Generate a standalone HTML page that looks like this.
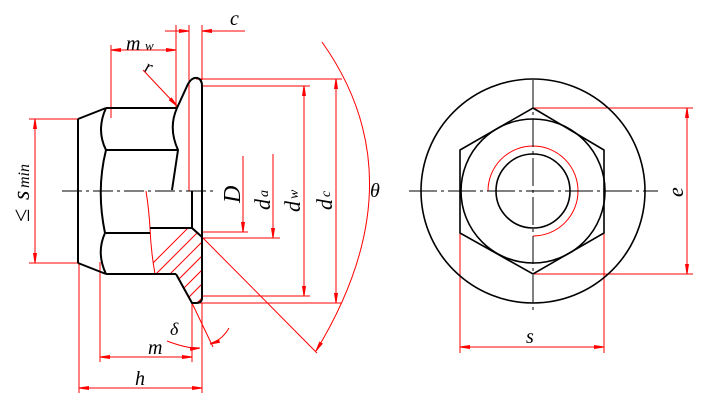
<!DOCTYPE html>
<html><head><meta charset="utf-8"><style>
html,body{margin:0;padding:0;background:#fff;width:704px;height:403px;overflow:hidden}
text{font-family:"Liberation Serif",serif;font-style:italic;fill:#000}
</style></head><body>
<svg width="704" height="403" viewBox="0 0 704 403" xmlns="http://www.w3.org/2000/svg">
<defs>
<marker id="a" viewBox="0 0 10 6" refX="10" refY="3" markerWidth="10" markerHeight="6" orient="auto-start-reverse" markerUnits="userSpaceOnUse">
<path d="M0,1 L10,2.5 L10,3.5 L0,5 Z" fill="#f00"/>
</marker>
<clipPath id="hc"><path d="M150,228 L192,228 L202,237 L202,300 Q200,303 196,303 L192,303 L185,290 L176,274 L155,274 Q151,250 150,228 Z"/></clipPath>
</defs>
<g fill="none" stroke="#f00" stroke-width="1">
<g clip-path="url(#hc)">
<path d="M120,310 L210,220 M134,310 L224,220 M148,310 L238,220 M162,310 L252,220 M176,310 L266,220 M190,310 L280,220 M204,310 L294,220 M218,310 L308,220 M106,310 L196,220"/>
</g>
<path d="M146,191 Q149,210 150,228 Q151,252 155,274"/>
<path d="M29,119 H79 M29,263 H79"/>
<path d="M35,119 V263" marker-start="url(#a)" marker-end="url(#a)"/>
<path d="M111,45 V118 M176,25 V108"/>
<path d="M111,50 H176" marker-start="url(#a)" marker-end="url(#a)"/>
<path d="M189,25 V191 M202,25 V80"/>
<path d="M165,31 H189" marker-end="url(#a)"/>
<path d="M245,31 H202" marker-end="url(#a)"/>
<path d="M143,70 L177,106" marker-end="url(#a)"/>
<path d="M196,79 H342 M196,303 H342"/>
<path d="M336,79 V303" marker-start="url(#a)" marker-end="url(#a)"/>
<path d="M202,86 H310 M202,296 H310"/>
<path d="M304,86 V296" marker-start="url(#a)" marker-end="url(#a)"/>
<path d="M202,238 H280"/>
<path d="M273,154 V238" marker-end="url(#a)"/>
<path d="M202,232 H248"/>
<path d="M243,156 V232" marker-end="url(#a)"/>
<path d="M202,237 L317,353"/>
<path d="M322,42 Q420,180 316,351" marker-end="url(#a)"/>
<path d="M192,303 L213,347"/>
<path d="M167,341 Q188,349 200,348" marker-end="url(#a)"/>
<path d="M229,328 Q222,340 210,344" marker-end="url(#a)"/>
<path d="M100,262 V362 M192,303 V362"/>
<path d="M100,357 H192" marker-start="url(#a)" marker-end="url(#a)"/>
<path d="M79,263 V393 M202,303 V393"/>
<path d="M79,388 H202" marker-start="url(#a)" marker-end="url(#a)"/>
<path d="M533,108 H693 M533,274 H693"/>
<path d="M687,108 V274" marker-start="url(#a)" marker-end="url(#a)"/>
<path d="M460,233 V353 M604,233 V353"/>
<path d="M460,347 H604" marker-start="url(#a)" marker-end="url(#a)"/>
<path d="M488,191 A45,45 0 1 1 533,236"/>
</g>
<g fill="none" stroke="#000" stroke-width="2">
<path d="M78,119 V263 M78,119 L106,108 M78,263 L106,274"/>
<path d="M106,108 H177 M106,150 H178 M106,233 H150 M150,228 H192 M106,274 H176"/>
<path d="M106,108 Q96,130 106,150 Q96,190 105,233 Q96,253 106,274"/>
<path d="M177,108 Q168,128 178,150 L172,190"/>
<path d="M177,108 L188,84 Q192,77 197,78 Q202,79 202,86 V298 Q202,303 196,303 L192,303 L176,274"/>
<path d="M192,191 V228 L202,237"/>
</g>
<g stroke="#000" stroke-width="1" fill="none">
<path d="M62,191 H214" stroke-dasharray="20 4 3 4"/>
</g>
<g fill="none" stroke="#000" stroke-width="1.6">
<circle cx="533" cy="191" r="112"/>
<circle cx="533" cy="191" r="72"/>
<circle cx="533" cy="191" r="37"/>
<path d="M533,108 L604,150 V233 L533,274 L460,233 V150 Z"/>
</g>
<g stroke="#000" stroke-width="1" fill="none">
<path d="M409,191 H658" stroke-dasharray="28 4 3 4"/>
<path d="M533,80 V312" stroke-dasharray="28 4 3 4"/>
</g>
<text x="126" y="50" font-size="20">m</text><text x="145" y="50" font-size="13" font-style="normal">w</text>
<text x="230" y="25" font-size="20">c</text>
<text x="145" y="73" font-size="18" transform="rotate(20 150 68)">r</text>
<text x="148" y="354" font-size="20">m</text>
<text x="170" y="335" font-size="18">δ</text>
<text x="135" y="385" font-size="20">h</text>
<text x="370" y="197" font-size="20">θ</text>
<text x="526" y="343" font-size="20">s</text>
<g transform="translate(683,191) rotate(-90)"><text x="-6" y="0" font-size="22">e</text></g>
<g transform="translate(240,192) rotate(-90)"><text x="-11" y="0" font-size="24">D</text></g>
<g transform="translate(270,198) rotate(-90)"><text x="-12" y="0" font-size="22">d</text><text x="1" y="-2" font-size="14" font-style="normal">a</text></g>
<g transform="translate(300,200) rotate(-90)"><text x="-12" y="0" font-size="22">d</text><text x="1" y="-2" font-size="14" font-style="normal">w</text></g>
<g transform="translate(332,198) rotate(-90)"><text x="-12" y="0" font-size="22">d</text><text x="1" y="-2" font-size="14" font-style="normal">c</text></g>
<g transform="translate(29,222) rotate(-90)"><text x="0" y="0" font-size="24" font-style="normal">≤</text><text x="22" y="0" font-size="24">s</text><text x="34" y="0" font-size="16" font-style="normal">min</text></g>
</svg>
</body></html>
